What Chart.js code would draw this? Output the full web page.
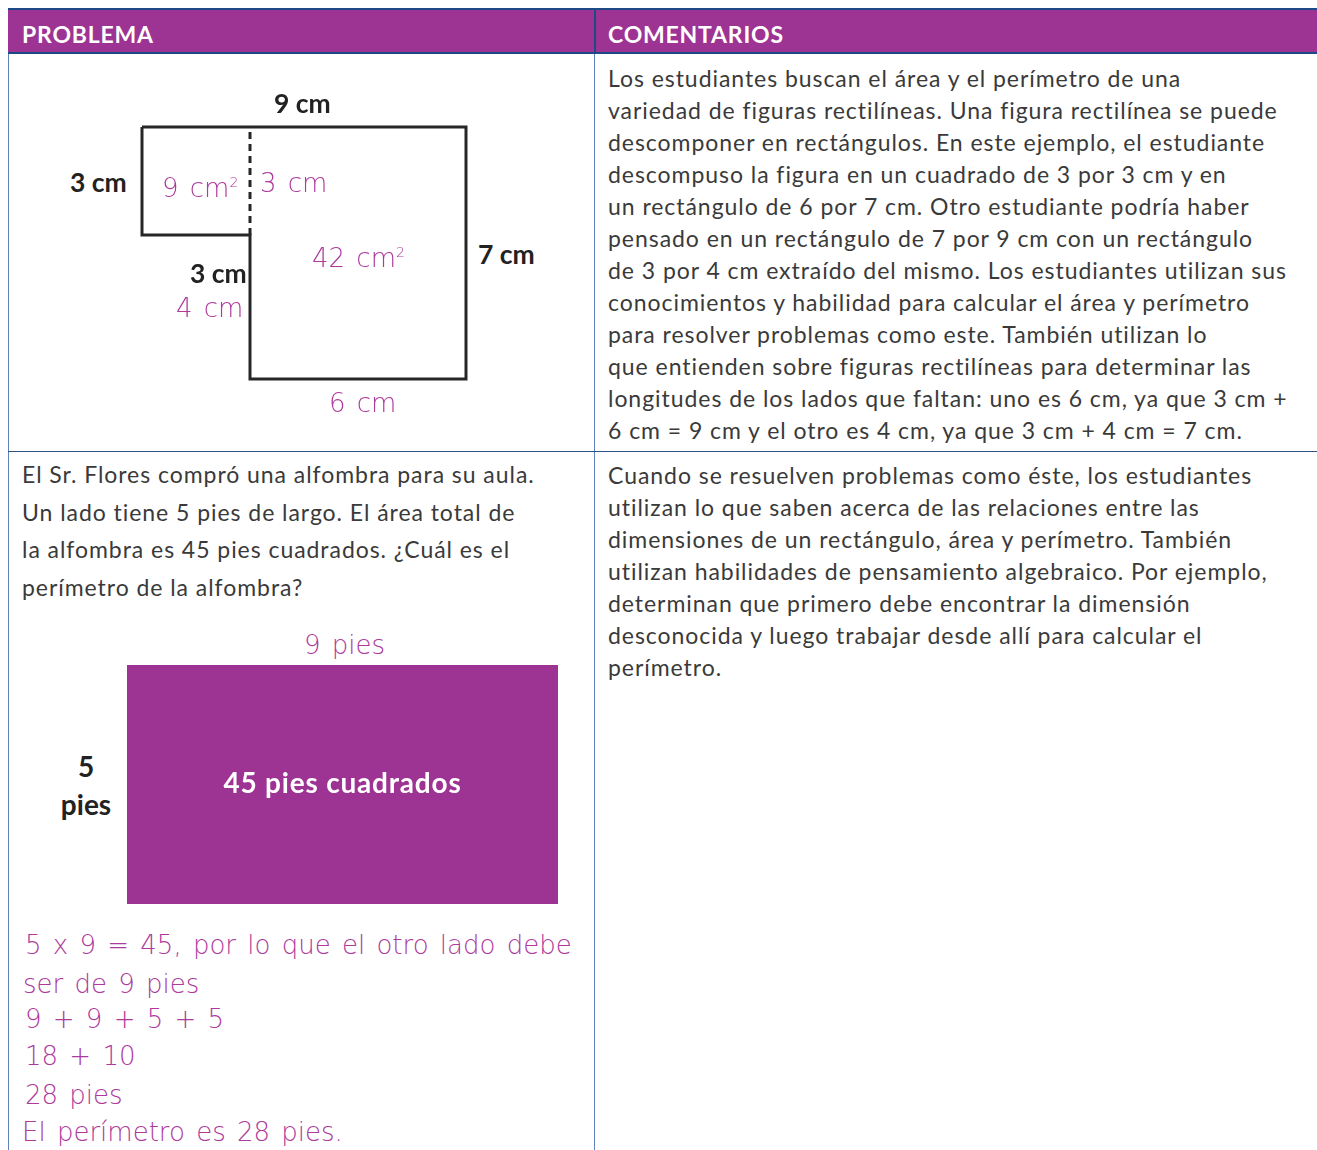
<!DOCTYPE html>
<html>
<head>
<meta charset="utf-8">
<script src="https://cdn.jsdelivr.net/npm/chart.js@4.4.1/dist/chart.umd.min.js"></script>
<style>
  body { margin: 0; width: 1317px; height: 1150px; background: #fff; position: relative; overflow: hidden; font-family: Lato, "Noto Sans", sans-serif; }
  .abs { position: absolute; white-space: nowrap; }
  .head { position: absolute; height: 42px; background: #9d3393; border-top: 2px solid #1d4a86; border-bottom: 2px solid #1d4a86; top: 8px; }
  .head span { position: absolute; top: 4px; line-height: 44px; color: #fff; font-weight: bold; font-size: 23px; letter-spacing: 0.8px; }
  .body { color: #3a3a3a; font-size: 23px; letter-spacing: 0.95px; }
  .lbl { font-weight: bold; color: #222; font-size: 26.5px; line-height: 30px; }
  .hand { color: #ad3a9c; font-family: "DejaVu Sans", sans-serif; font-weight: 200; font-size: 26px; line-height: 30px; letter-spacing: 0; word-spacing: 3px; }
  canvas { position: absolute; }
</style>
</head>
<body>
<!-- table frame -->
<div class="head" style="left:8px; width:1309px;"></div>
<div class="abs" style="left:594px; top:8px; width:2px; height:46px; background:#1d4a86;"></div>
<div class="abs" style="left:8px; top:54px; width:1px; height:1096px; background:#5f82b8;"></div>
<div class="abs" style="left:594px; top:54px; width:1px; height:1096px; background:#5f82b8;"></div>
<div class="abs" style="left:8px; top:451px; width:1309px; height:1px; background:#2c5185;"></div>
<div class="head" style="left:8px; width:1309px; background:transparent; border:none;">
  <span style="left:14px;">PROBLEMA</span>
  <span style="left:600px;">COMENTARIOS</span>
</div>

<!-- comentarios -->
<div class="abs body" style="left:608px; top:62px; line-height:32px;">
Los estudiantes buscan el área y el perímetro de una<br>
variedad de figuras rectilíneas. Una figura rectilínea se puede<br>
descomponer en rectángulos. En este ejemplo, el estudiante<br>
descompuso la figura en un cuadrado de 3 por 3 cm y en<br>
un rectángulo de 6 por 7 cm. Otro estudiante podría haber<br>
pensado en un rectángulo de 7 por 9 cm con un rectángulo<br>
de 3 por 4 cm extraído del mismo. Los estudiantes utilizan sus<br>
conocimientos y habilidad para calcular el área y perímetro<br>
para resolver problemas como este. También utilizan lo<br>
que entienden sobre figuras rectilíneas para determinar las<br>
longitudes de los lados que faltan: uno es 6 cm, ya que 3 cm +<br>
6 cm = 9 cm y el otro es 4 cm, ya que 3 cm + 4 cm = 7 cm.
</div>
<div class="abs body" style="left:608px; top:459px; line-height:32px;">
Cuando se resuelven problemas como éste, los estudiantes<br>
utilizan lo que saben acerca de las relaciones entre las<br>
dimensiones de un rectángulo, área y perímetro. También<br>
utilizan habilidades de pensamiento algebraico. Por ejemplo,<br>
determinan que primero debe encontrar la dimensión<br>
desconocida y luego trabajar desde allí para calcular el<br>
perímetro.
</div>
<div class="abs body" style="left:22px; top:456px; line-height:37.5px;">
El Sr. Flores compró una alfombra para su aula.<br>
Un lado tiene 5 pies de largo. El área total de<br>
la alfombra es 45 pies cuadrados. ¿Cuál es el<br>
perímetro de la alfombra?
</div>

<!-- figure 1 -->
<canvas id="shape" width="344" height="272" style="left:132px; top:117px;"></canvas>
<div class="abs lbl" style="left:274px; top:88px;">9 cm</div>
<div class="abs lbl" style="left:70px; top:167px;">3 cm</div>
<div class="abs lbl" style="left:478px; top:239px;">7 cm</div>
<div class="abs lbl" style="left:190px; top:258px;">3 cm</div>
<div class="abs hand" style="left:162px; top:167px;">9 cm<sup style="font-size:14px;">2</sup></div>
<div class="abs hand" style="left:260px; top:168px;">3 cm</div>
<div class="abs hand" style="left:312px; top:237px;">42 cm<sup style="font-size:14px;">2</sup></div>
<div class="abs hand" style="left:176px; top:293px;">4 cm</div>
<div class="abs hand" style="left:329px; top:388px;">6 cm</div>

<!-- figure 2 -->
<canvas id="rug" width="431" height="239" style="left:127px; top:665px;"></canvas>
<div class="abs hand" style="left:304px; top:630px;">9 pies</div>
<div class="abs lbl" style="left:58px; top:751px; width:56px; text-align:center; font-size:28px;">5</div>
<div class="abs lbl" style="left:58px; top:789px; width:56px; text-align:center; font-size:28px;">pies</div>
<div class="abs lbl" style="left:127px; top:767px; width:431px; text-align:center; color:#fff; font-size:28px; letter-spacing:0.8px;">45 pies cuadrados</div>

<div class="abs hand" style="left:25px; top:930px;">5 x 9 = 45, por lo que el otro lado debe</div>
<div class="abs hand" style="left:23px; top:969px;">ser de 9 pies</div>
<div class="abs hand" style="left:25px; top:1004px;">9 + 9 + 5 + 5</div>
<div class="abs hand" style="left:25px; top:1041px;">18 + 10</div>
<div class="abs hand" style="left:25px; top:1080px;">28 pies</div>
<div class="abs hand" style="left:22px; top:1117px;">El perímetro es 28 pies.</div>

<script>
// L-shaped figure, in cm
const outlineX = [0, 9, 9, 3, 3, 0, 0];
const outlineY = [7, 7, 0, 0, 4, 4, 7];
const splitX = [3, 3];
const splitY = [4, 7];
// rug, in feet
const rugTopX = [0, 9];
const rugTopY = [5, 5];

const ink = "#262626";
const purple = "#9d3393";

function pts(xs, ys) {
  return xs.map((x, i) => ({ x: x, y: ys[i] }));
}

function baseOptions(xMax, yMax, pad) {
  return {
    responsive: false,
    animation: false,
    devicePixelRatio: 1,
    layout: { padding: pad },
    plugins: { legend: { display: false }, tooltip: { enabled: false } },
    elements: { point: { radius: 0 }, line: { tension: 0 } },
    scales: {
      x: { type: "linear", min: 0, max: xMax, display: false },
      y: { type: "linear", min: 0, max: yMax, display: false },
    },
  };
}

new Chart(document.getElementById("shape"), {
  type: "scatter",
  data: {
    datasets: [
      { data: pts(outlineX, outlineY), showLine: true, borderColor: ink, borderWidth: 3, clip: false },
      { data: pts(splitX, splitY), showLine: true, borderColor: ink, borderWidth: 3, borderDash: [7, 5], clip: false },
    ],
  },
  options: baseOptions(9, 7, 10),
});

new Chart(document.getElementById("rug"), {
  type: "scatter",
  data: {
    datasets: [
      { data: pts(rugTopX, rugTopY), showLine: true, borderColor: purple, borderWidth: 1, backgroundColor: purple, fill: "origin" },
    ],
  },
  options: baseOptions(9, 5, 0),
});
</script>
</body>
</html>
